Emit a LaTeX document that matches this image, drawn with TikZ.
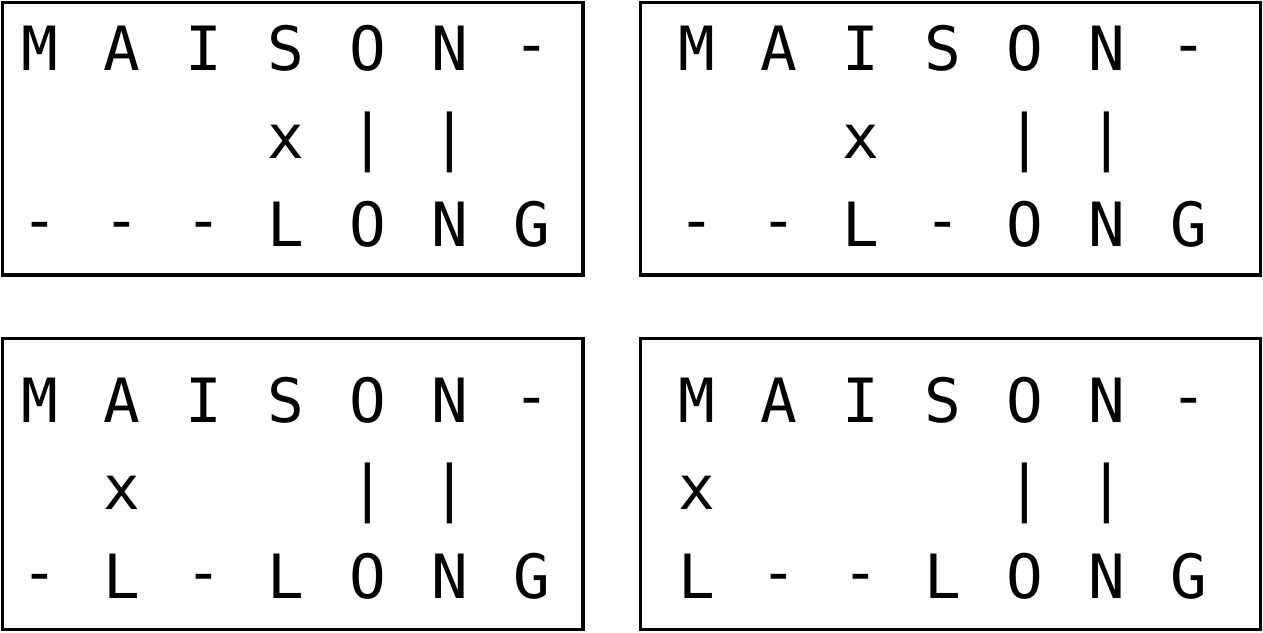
\documentclass[tikz,border=0pt]{standalone}
\usepackage{fontspec}
\setmonofont{DejaVu Sans Mono}
\newcommand\myhyph{\raisebox{5pt}{-}}
\tikzset{
  ch/.style={font=\ttfamily\fontsize{61}{72}\selectfont, inner sep=0pt, anchor=base},
  frame/.style={draw=black, line width=3.5pt}
}
\begin{document}
\begin{tikzpicture}[x=1pt,y=-1pt]
\useasboundingbox (0,0) rectangle (1263,632);
% frames
\draw[frame] (2.5,2.5) rectangle (583,275);
\draw[frame] (640.5,2.5) rectangle (1260.5,275);
\draw[frame] (2.5,338.5) rectangle (583,629.5);
\draw[frame] (640.5,338.5) rectangle (1260.5,629.5);
% first rows
\foreach \x/\y/\b in {40/70/1,697/70/2,40/422/3,697/422/4}{
  \foreach \c/\t in {0/M,1/A,2/I,3/S,4/O,5/N,6/\myhyph}{
    \node[ch] (b\b r1c\c) at (\x+82*\c,\y) {\t};
  }
}
% box 1
\foreach \c/\t in {3/x,4/|,5/|}{\node[ch] (b1r2c\c) at (40+82*\c,158) {\t};}
\foreach \c/\t in {0/\myhyph,1/\myhyph,2/\myhyph,3/L,4/O,5/N,6/G}{\node[ch] (b1r3c\c) at (40+82*\c,246) {\t};}
% box 2
\foreach \c/\t in {2/x,4/|,5/|}{\node[ch] (b2r2c\c) at (697+82*\c,158) {\t};}
\foreach \c/\t in {0/\myhyph,1/\myhyph,2/L,3/\myhyph,4/O,5/N,6/G}{\node[ch] (b2r3c\c) at (697+82*\c,246) {\t};}
% box 3
\foreach \c/\t in {1/x,4/|,5/|}{\node[ch] (b3r2c\c) at (40+82*\c,509) {\t};}
\foreach \c/\t in {0/\myhyph,1/L,2/\myhyph,3/L,4/O,5/N,6/G}{\node[ch] (b3r3c\c) at (40+82*\c,598) {\t};}
% box 4
\foreach \c/\t in {0/x,4/|,5/|}{\node[ch] (b4r2c\c) at (697+82*\c,509) {\t};}
\foreach \c/\t in {0/L,1/\myhyph,2/\myhyph,3/L,4/O,5/N,6/G}{\node[ch] (b4r3c\c) at (697+82*\c,598) {\t};}
\end{tikzpicture}
\end{document}
